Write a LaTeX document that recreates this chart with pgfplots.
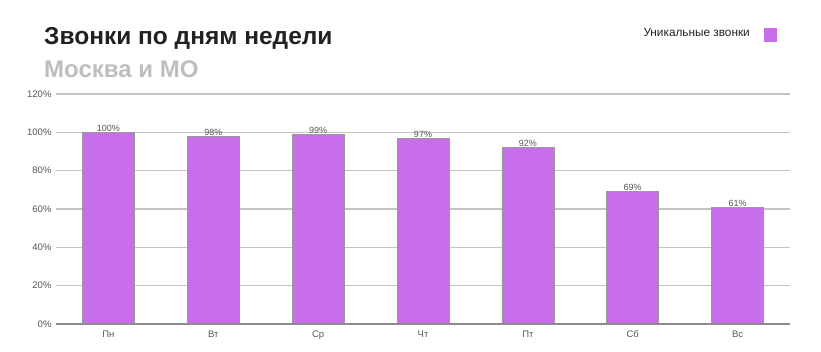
\documentclass[border=0pt]{standalone}
\usepackage{pgfplots}
\pgfplotsset{compat=1.18}
\usepackage{fontspec}
\setmainfont{Liberation Sans}
\definecolor{barc}{RGB}{200,110,235}
\definecolor{gridc}{RGB}{195,195,195}
\definecolor{tickc}{RGB}{85,85,85}
\definecolor{subc}{RGB}{190,190,190}
\begin{document}
\begin{tikzpicture}[x=1pt,y=1pt]
\useasboundingbox (0,0) rectangle (821,352);
\begin{axis}[
  at={(56pt,28pt)}, anchor=south west,
  scale only axis, width=734pt, height=230pt,
  ymin=0, ymax=120, xmin=-0.5, xmax=6.5,
  ytick={0,20,...,120},
  yticklabel={\pgfmathprintnumber{\tick}\%},
  xtick=data,
  xticklabels={Пн,Вт,Ср,Чт,Пт,Сб,Вс},
  /pgf/number format/assume math mode=true,
  tick label style={font=\fontsize{9.5}{10}\selectfont, text=tickc},
  ymajorgrids, grid style={gridc, line width=1.4pt},
  axis line style={draw=none},
  major tick length=0pt,
  yticklabel style={xshift=-1pt},
  xticklabel style={yshift=-3pt},
  ybar, bar width=52pt,
  nodes near coords={\pgfmathprintnumber{\pgfplotspointmeta}\%},
  nodes near coords style={font=\fontsize{9}{9}\selectfont, text=tickc, inner sep=0.5pt},
  clip=false,
]
\addplot[fill=barc, draw=gray!80, line width=0.6pt] coordinates {(0,100) (1,98) (2,99) (3,97) (4,92) (5,69) (6,61)};
\draw[gray!90, line width=1.4pt] (axis cs:-0.5,0) -- (axis cs:6.5,0);
\end{axis}
\node[anchor=base west, inner sep=0, font=\fontsize{24.5}{26}\selectfont\bfseries, text={rgb,255:red,33;green,33;blue,33}] at (44,307) {Звонки по дням недели};
\node[anchor=base west, inner sep=0, font=\fontsize{24}{26}\selectfont\bfseries, text=subc] at (44,274) {Москва и МО};
\node[anchor=base east, inner sep=0, font=\fontsize{11.8}{12}\selectfont, text={rgb,255:red,33;green,33;blue,33}] at (750,315) {Уникальные звонки};
\fill[barc] (764,310) rectangle (777,324);
\end{tikzpicture}
\end{document}
